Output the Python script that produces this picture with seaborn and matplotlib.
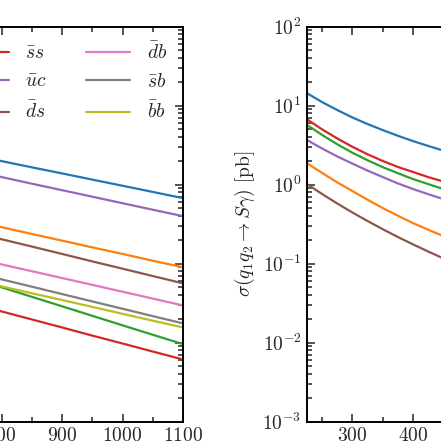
import numpy as np
import pandas as pd
import matplotlib
matplotlib.use("Agg")
import matplotlib.pyplot as plt
import seaborn as sns
from matplotlib.lines import Line2D
from matplotlib.ticker import MultipleLocator, LogLocator, NullFormatter

# ---------------- data ----------------
channels = [r"$\bar{u}u$", r"$\bar{d}d$", r"$\bar{c}c$", r"$\bar{s}s$", r"$\bar{u}c$",
            r"$\bar{d}s$", r"$\bar{d}b$", r"$\bar{s}b$", r"$\bar{b}b$"]
colors = ["#1f77b4", "#ff7f0e", "#2ca02c", "#d62728", "#9467bd",
          "#8c564b", "#e377c2", "#7f7f7f", "#bcbd22"]

# left panel (heavy mass range)
mass_left = [750, 800, 850, 900, 950, 1000, 1050, 1100]
left_uu = [2.38, 1.99, 1.66, 1.39, 1.16, 0.97, 0.81, 0.676]
left_dd = [0.352, 0.29, 0.238, 0.196, 0.161, 0.133, 0.109, 0.090]
left_cc = [0.0662, 0.0503, 0.0381, 0.0289, 0.0219, 0.0166, 0.0126, 0.0096]
left_ss = [0.0314, 0.0249, 0.0197, 0.0156, 0.0123, 0.00977, 0.00773, 0.00613]
left_uc = [1.51, 1.25, 1.03, 0.853, 0.705, 0.583, 0.482, 0.40]
left_ds = [0.253, 0.204, 0.165, 0.133, 0.107, 0.0865, 0.0698, 0.0564]
left_db = [0.120, 0.098, 0.0804, 0.0659, 0.0540, 0.0442, 0.0362, 0.0296]
left_sb = [0.0785, 0.0634, 0.0512, 0.0413, 0.0333, 0.0269, 0.0217, 0.01755]
left_bb = [0.0631, 0.0516, 0.0423, 0.0347, 0.0284, 0.0232, 0.0190, 0.0156]

# right panel (light mass range)
mass_right = [225, 250, 275, 300, 325, 350, 375, 400, 425, 450, 475, 500]
right_uu = [14.4, 11.1, 8.81, 7.10, 5.86, 4.92, 4.17, 3.57, 3.10, 2.71, 2.38, 2.10]
right_dd = [1.87, 1.41, 1.07, 0.832, 0.646, 0.507, 0.406, 0.327, 0.270, 0.224, 0.190, 0.162]
right_cc = [5.70, 4.26, 3.25, 2.54, 2.04, 1.67, 1.40, 1.18, 1.02, 0.883, 0.771, 0.676]
right_ss = [6.73, 5.01, 3.85, 3.02, 2.43, 2.00, 1.68, 1.45, 1.25, 1.10, 0.964, 0.851]
right_uc = [3.68, 2.87, 2.28, 1.85, 1.51, 1.25, 1.04, 0.883, 0.760, 0.659, 0.579, 0.513]
right_ds = [1.02, 0.762, 0.578, 0.445, 0.347, 0.274, 0.218, 0.176, 0.143, 0.117, 0.0975, 0.082]

left_series = [left_uu, left_dd, left_cc, left_ss, left_uc, left_ds, left_db, left_sb, left_bb]
right_series = [right_uu, right_dd, right_cc, right_ss, right_uc, right_ds]

rows = []
for lab, vals in zip(channels, left_series):
    for m, v in zip(mass_left, vals):
        rows.append({"m": m, "sigma": v, "channel": lab})
df_left = pd.DataFrame(rows)
rows = []
for lab, vals in zip(channels, right_series):
    for m, v in zip(mass_right, vals):
        rows.append({"m": m, "sigma": v, "channel": lab})
df_right = pd.DataFrame(rows)

# ---------------- style ----------------
sns.set_style("ticks")
plt.rcParams.update({
    "font.family": "serif",
    "font.serif": ["cmr10"],
    "mathtext.fontset": "cm",
    "axes.formatter.use_mathtext": True,
    "font.size": 14,
    "axes.linewidth": 1.4,
    "axes.edgecolor": "black",
})

W = H = 441
fig = plt.figure(figsize=(4.41, 4.41), dpi=100)

def px_axes(left, right, top, bottom):
    return [left / W, 1 - bottom / H, (right - left) / W, (bottom - top) / H]

ppu = 60.5 / 100.0  # pixels per GeV
top_px, bot_px = 26.7, 421.7
xl0, xl1 = 600, 1100
axL = fig.add_axes(px_axes(183 - (xl1 - xl0) * ppu, 183, top_px, bot_px))
xr0, xr1 = 225, 750
axR = fig.add_axes(px_axes(307, 307 + (xr1 - xr0) * ppu, top_px, bot_px))

pal = dict(zip(channels, colors))
sns.lineplot(data=df_left, x="m", y="sigma", hue="channel", hue_order=channels,
             palette=pal, ax=axL, linewidth=1.6, legend=False)
sns.lineplot(data=df_right, x="m", y="sigma", hue="channel", hue_order=channels[:6],
             palette=pal, ax=axR, linewidth=1.6, legend=False)

for ax, (x0, x1) in [(axL, (xl0, xl1)), (axR, (xr0, xr1))]:
    ax.set_yscale("log")
    ax.set_ylim(1e-3, 1e2)
    ax.set_xlim(x0, x1)
    ax.xaxis.set_major_locator(MultipleLocator(100))
    ax.xaxis.set_minor_locator(MultipleLocator(50))
    ax.yaxis.set_major_locator(LogLocator(base=10, numticks=20))
    ax.yaxis.set_minor_locator(LogLocator(base=10, subs=np.arange(2, 10), numticks=100))
    ax.yaxis.set_minor_formatter(NullFormatter())
    ax.tick_params(which="both", direction="in", top=True, right=True, width=1.1,
                   labelsize=14, pad=4)
    ax.tick_params(which="major", length=6)
    ax.tick_params(which="minor", length=3.5)
    ax.set_xlabel("")
    ax.set_ylabel("")
    for s in ax.spines.values():
        s.set_linewidth(1.4)

axR.set_ylabel(r"$\sigma(q_1q_2\to S\gamma)$ [pb]", fontsize=14, labelpad=4)

handles = [Line2D([], [], color=c, lw=1.6) for c in colors]
axL.legend(handles, channels, ncol=3, frameon=False, loc="upper right",
           bbox_to_anchor=(167 / W, 1 - 42 / H), bbox_transform=fig.transFigure,
           fontsize=14, handlelength=2.3, handletextpad=0.85, columnspacing=2.0,
           labelspacing=0.52, borderpad=0, borderaxespad=0)

fig.savefig("out.png", dpi=100)
